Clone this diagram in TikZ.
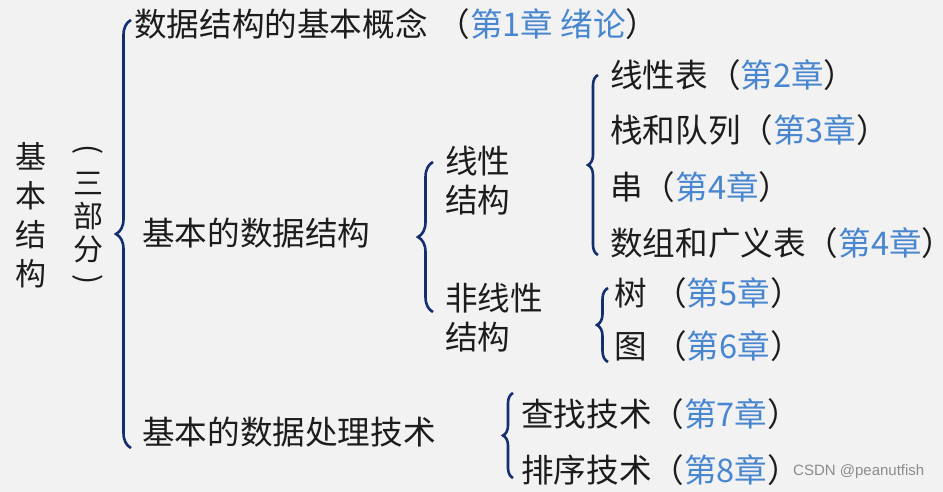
\documentclass[tikz,border=0pt]{standalone}
\usepackage{fontspec}
\setmainfont{Noto Sans CJK SC}
\newfontfamily\markfont{Liberation Sans}
\usetikzlibrary{positioning, decorations.pathreplacing}
\definecolor{bgcol}{RGB}{242,242,242}
\definecolor{navy}{RGB}{20,46,112}
\definecolor{chblue}{RGB}{72,134,208}
\definecolor{inkcol}{RGB}{28,28,28}
\definecolor{markgray}{RGB}{140,140,140}
\newcommand{\chapno}[1]{（\textcolor{chblue}{#1}）}
\newcommand{\vparen}[1]{\rotatebox[origin=c]{-90}{#1}}

\begin{document}
\begin{tikzpicture}[x=1pt,y=-1pt,
  txt/.style={anchor=west,inner sep=0pt,text=inkcol,
              font=\fontsize{32.6pt}{39pt}\selectfont},
  brc/.style={decorate,decoration={brace,amplitude=#1},
              line width=2.6pt,navy}]
  \fill[bgcol] (0,0) rectangle (943,492);
  \useasboundingbox (0,0) rectangle (943,492);
  % left titles
  \node[txt,anchor=center,align=center,
        font=\fontsize{31pt}{39pt}\selectfont] (root) at (31,215){基\\本\\结\\构};
  \node[txt,anchor=center,align=center,
        font=\fontsize{30pt}{33pt}\selectfont] (parts) at (88,217)
        {\vparen{(}\\[2pt]三\\部\\分\\[-4pt]\vparen{)}};
  % first level
  \node[txt] (concept) at (134,24){数据结构的基本概念\hspace{10pt}\chapno{第1章 绪论}};
  \node[txt] (basic)   at (142,233){基本的数据结构};
  \node[txt] (tech)    at (142,432){基本的数据处理技术};
  % second level
  \node[txt,align=left] (linear)    at (445,181){线性\\结构};
  \node[txt,align=left] (nonlinear) at (445,318){非线性\\结构};
  \node[txt] (list)   at (610,75){线性表\chapno{第2章}};
  \node[txt] (stack)  at (610,130){栈和队列\chapno{第3章}};
  \node[txt] (string) at (610,187){串\chapno{第4章}};
  \node[txt] (array)  at (610,243){数组和广义表\chapno{第4章}\hspace{-14pt}};
  \node[txt] (tree)   at (614,293){树 \chapno{第5章}};
  \node[txt] (graph)  at (614,346){图 \chapno{第6章}};
  \node[txt] (search) at (521,414){查找技术\chapno{第7章}};
  \node[txt] (sort)   at (521,470){排序技术\chapno{第8章}};
  \node[anchor=west,inner sep=0pt,text=markgray,
        font=\markfont\fontsize{15pt}{18pt}\selectfont] (mark) at (793,472){CSDN @peanutfish};
  % braces
  \coordinate (b1t) at (131,20);  \coordinate (b1b) at (131,448);
  \coordinate (b2t) at (433,162); \coordinate (b2b) at (433,312);
  \coordinate (b3t) at (598,75);  \coordinate (b3b) at (598,255);
  \coordinate (b4t) at (608,288); \coordinate (b4b) at (608,362);
  \coordinate (b5t) at (513,393); \coordinate (b5b) at (513,478);
  \draw[brc=15pt] (b1b) -- (b1t);
  \draw[brc=15pt] (b2b) -- (b2t);
  \draw[brc=10pt] (b3b) -- (b3t);
  \draw[brc=11pt] (b4b) -- (b4t);
  \draw[brc=10pt] (b5b) -- (b5t);
\end{tikzpicture}
\end{document}
